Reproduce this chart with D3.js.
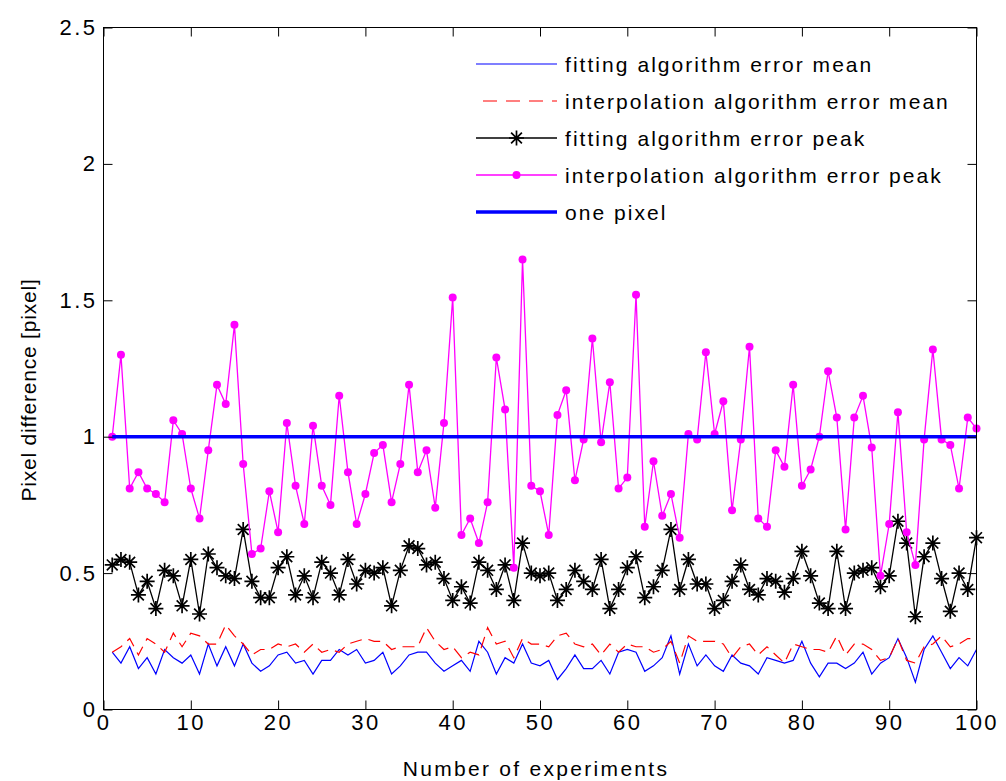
<!DOCTYPE html>
<html>
<head>
<meta charset="utf-8">
<script src="https://cdn.jsdelivr.net/npm/d3@7"></script>
<style>
  html, body { margin: 0; padding: 0; background: #ffffff; }
  svg { display: block; }
  text { font-family: "Liberation Sans", Arial, sans-serif; fill: #000; }
</style>
</head>
<body>
<svg id="chart" width="1006" height="781"></svg>
<script>
// Per-experiment error statistics (pixel units)
const fittingMean = [
  0.21, 0.17, 0.23, 0.15, 0.19, 0.13, 0.22, 0.19, 0.17, 0.20,
  0.13, 0.24, 0.16, 0.23, 0.16, 0.24, 0.17, 0.14, 0.16, 0.20,
  0.21, 0.17, 0.18, 0.13, 0.18, 0.18, 0.22, 0.20, 0.22, 0.17,
  0.18, 0.21, 0.13, 0.16, 0.20, 0.21, 0.21, 0.17, 0.14, 0.16,
  0.18, 0.14, 0.25, 0.21, 0.13, 0.19, 0.17, 0.24, 0.17, 0.16,
  0.18, 0.11, 0.15, 0.20, 0.15, 0.15, 0.18, 0.13, 0.21, 0.22,
  0.21, 0.14, 0.16, 0.19, 0.27, 0.13, 0.24, 0.16, 0.20, 0.16,
  0.14, 0.20, 0.17, 0.16, 0.13, 0.19, 0.18, 0.17, 0.18, 0.25,
  0.17, 0.12, 0.17, 0.17, 0.15, 0.17, 0.21, 0.13, 0.17, 0.19,
  0.26, 0.19, 0.10, 0.22, 0.27, 0.21, 0.15, 0.19, 0.16, 0.22
];
const interpMean = [
  0.21, 0.23, 0.26, 0.20, 0.26, 0.24, 0.21, 0.28, 0.23, 0.28,
  0.27, 0.24, 0.24, 0.31, 0.27, 0.24, 0.20, 0.22, 0.22, 0.24,
  0.23, 0.24, 0.21, 0.24, 0.21, 0.22, 0.21, 0.24, 0.25, 0.26,
  0.25, 0.25, 0.22, 0.23, 0.23, 0.23, 0.30, 0.25, 0.22, 0.23,
  0.19, 0.21, 0.20, 0.30, 0.24, 0.25, 0.19, 0.26, 0.24, 0.24,
  0.23, 0.27, 0.28, 0.24, 0.23, 0.24, 0.20, 0.24, 0.21, 0.24,
  0.23, 0.23, 0.21, 0.22, 0.25, 0.17, 0.27, 0.25, 0.25, 0.25,
  0.24, 0.19, 0.23, 0.24, 0.20, 0.23, 0.20, 0.17, 0.24, 0.23,
  0.22, 0.22, 0.21, 0.27, 0.20, 0.24, 0.24, 0.22, 0.18, 0.19,
  0.26, 0.18, 0.17, 0.23, 0.24, 0.27, 0.23, 0.24, 0.26, 0.26
];
const fittingPeak = [
  0.53, 0.55, 0.54, 0.42, 0.47, 0.37, 0.51, 0.49, 0.38, 0.55,
  0.35, 0.57, 0.52, 0.49, 0.48, 0.66, 0.47, 0.41, 0.41, 0.52,
  0.56, 0.42, 0.49, 0.41, 0.54, 0.50, 0.42, 0.55, 0.46, 0.51,
  0.50, 0.52, 0.38, 0.51, 0.60, 0.59, 0.53, 0.54, 0.48, 0.40,
  0.45, 0.39, 0.54, 0.51, 0.44, 0.53, 0.40, 0.61, 0.50, 0.49,
  0.50, 0.40, 0.44, 0.51, 0.47, 0.44, 0.55, 0.37, 0.44, 0.52,
  0.56, 0.41, 0.45, 0.51, 0.66, 0.44, 0.55, 0.46, 0.46, 0.37,
  0.40, 0.47, 0.53, 0.44, 0.42, 0.48, 0.47, 0.43, 0.48, 0.58,
  0.49, 0.39, 0.37, 0.58, 0.37, 0.50, 0.51, 0.52, 0.45, 0.49,
  0.69, 0.61, 0.34, 0.56, 0.61, 0.48, 0.36, 0.50, 0.44, 0.63
];
const interpPeak = [
  1.00, 1.30, 0.81, 0.87, 0.81, 0.79, 0.76, 1.06, 1.01, 0.81,
  0.70, 0.95, 1.19, 1.12, 1.41, 0.90, 0.57, 0.59, 0.80, 0.65,
  1.05, 0.82, 0.68, 1.04, 0.82, 0.75, 1.15, 0.87, 0.68, 0.79,
  0.94, 0.97, 0.76, 0.90, 1.19, 0.87, 0.95, 0.74, 1.05, 1.51,
  0.64, 0.70, 0.61, 0.76, 1.29, 1.10, 0.52, 1.65, 0.82, 0.80,
  0.64, 1.08, 1.17, 0.84, 0.99, 1.36, 0.98, 1.20, 0.81, 0.85,
  1.52, 0.67, 0.91, 0.71, 0.79, 0.63, 1.01, 0.99, 1.31, 1.01,
  1.13, 0.73, 0.99, 1.33, 0.70, 0.67, 0.95, 0.89, 1.19, 0.82,
  0.88, 1.00, 1.24, 1.07, 0.66, 1.07, 1.15, 0.96, 0.49, 0.68,
  1.09, 0.65, 0.53, 0.99, 1.32, 0.99, 0.97, 0.81, 1.07, 1.03
];
const onePixel = 1;

const xTicks = [0, 10, 20, 30, 40, 50, 60, 70, 80, 90, 100];
const yTicks = [0, 0.5, 1, 1.5, 2, 2.5];
const yTickLabels = ["0", "0.5", "1", "1.5", "2", "2.5"];

const legendLabels = [
  "fitting algorithm error mean",
  "interpolation algorithm error mean",
  "fitting algorithm error peak",
  "interpolation algorithm error peak",
  "one pixel"
];
const xTitle = "Number of experiments";
const yTitle = "Pixel difference [pixel]";

// ---- layout ----
const plot = { left: 103.5, right: 976.5, top: 27.5, bottom: 709.5 };
const svg = d3.select("#chart");

const x = d3.scaleLinear().domain([0, 100]).range([plot.left, plot.right]);
const y = d3.scaleLinear().domain([0, 2.5]).range([plot.bottom, plot.top]);

const withIndex = arr => arr.map((v, i) => ({ n: i + 1, v }));
const line = d3.line().x(d => x(d.n)).y(d => y(d.v));

const gData = svg.append("g");

// fitting mean (thin blue)
gData.append("path")
  .datum(withIndex(fittingMean))
  .attr("d", line)
  .attr("fill", "none").attr("stroke", "#0000ff").attr("stroke-width", 1.2);

// interpolation mean (red dashed)
gData.append("path")
  .datum(withIndex(interpMean))
  .attr("d", line)
  .attr("fill", "none").attr("stroke", "#ff0000").attr("stroke-width", 1.2)
  .attr("stroke-dasharray", "12,7");

// fitting peak (black, asterisk markers)
const peakF = withIndex(fittingPeak);
gData.append("path")
  .datum(peakF)
  .attr("d", line)
  .attr("fill", "none").attr("stroke", "#000").attr("stroke-width", 1.3);

function asterisk(g, cx, cy, r) {
  const d = r * 0.72;
  const p = `M${cx - r},${cy}L${cx + r},${cy}M${cx},${cy - r}L${cx},${cy + r}` +
            `M${cx - d},${cy - d}L${cx + d},${cy + d}M${cx - d},${cy + d}L${cx + d},${cy - d}`;
  g.append("path").attr("d", p).attr("stroke", "#000").attr("stroke-width", 1.7).attr("fill", "none");
}
const gStars = gData.append("g");
peakF.forEach(d => asterisk(gStars, x(d.n), y(d.v), 7.5));

// interpolation peak (magenta, dot markers)
const peakI = withIndex(interpPeak);
gData.append("path")
  .datum(peakI)
  .attr("d", line)
  .attr("fill", "none").attr("stroke", "#ff00ff").attr("stroke-width", 1.3);
gData.append("g").selectAll("circle")
  .data(peakI).join("circle")
  .attr("cx", d => x(d.n)).attr("cy", d => y(d.v))
  .attr("r", 4).attr("fill", "#ff00ff");

// one pixel reference line
gData.append("line")
  .attr("x1", x(1)).attr("x2", x(100))
  .attr("y1", y(onePixel)).attr("y2", y(onePixel))
  .attr("stroke", "#0000ff").attr("stroke-width", 3.5);

// ---- axes box and ticks ----
const gAxes = svg.append("g");
gAxes.append("rect")
  .attr("x", plot.left).attr("y", plot.top)
  .attr("width", plot.right - plot.left).attr("height", plot.bottom - plot.top)
  .attr("fill", "none").attr("stroke", "#000").attr("stroke-width", 1);

const tickLen = 9;
const axisBottom = d3.axisBottom(x).tickValues(xTicks).tickSize(-tickLen).tickPadding(5).tickFormat(d3.format("d"));
const axisTop = d3.axisTop(x).tickValues(xTicks).tickSize(-tickLen).tickFormat("");
const axisLeft = d3.axisLeft(y).tickValues(yTicks).tickSize(-tickLen).tickPadding(6)
  .tickFormat((d, i) => yTickLabels[i]);
const axisRight = d3.axisRight(y).tickValues(yTicks).tickSize(-tickLen).tickFormat("");

function styleAxis(g) {
  g.select(".domain").remove();
  g.selectAll(".tick line").attr("stroke", "#000");
  g.selectAll(".tick text")
    .attr("font-family", "'Liberation Sans', Arial, sans-serif")
    .attr("font-size", 22).attr("letter-spacing", 2.5).attr("fill", "#000");
}
gAxes.append("g").attr("transform", `translate(0,${plot.bottom})`).call(axisBottom).call(styleAxis);
gAxes.append("g").attr("transform", `translate(0,${plot.top})`).call(axisTop).call(styleAxis);
gAxes.append("g").attr("transform", `translate(${plot.left},0)`).call(axisLeft).call(styleAxis);
gAxes.append("g").attr("transform", `translate(${plot.right},0)`).call(axisRight).call(styleAxis);

// axis titles
svg.append("text")
  .attr("x", 536).attr("y", 776)
  .attr("text-anchor", "middle").attr("font-size", 21).attr("letter-spacing", 2.3)
  .text(xTitle);
svg.append("text")
  .attr("transform", `translate(36,390) rotate(-90)`)
  .attr("text-anchor", "middle").attr("font-size", 21).attr("letter-spacing", 0.8)
  .text(yTitle);

// ---- legend ----
const leg = svg.append("g");
const rowY = [64, 101, 138, 175, 212];
const sx0 = 476, sx1 = 557, tx = 565;
const legendStyles = [
  { stroke: "#0000ff", width: 1.2 },
  { stroke: "#ff0000", width: 1.2, dash: "14,9", start: 483 },
  { stroke: "#000", width: 1.3, marker: "star" },
  { stroke: "#ff00ff", width: 1.3, marker: "dot" },
  { stroke: "#0000ff", width: 3.5 }
];
legendLabels.forEach((label, i) => {
  const s = legendStyles[i];
  const cy = rowY[i];
  const ln = leg.append("line")
    .attr("x1", s.start || sx0).attr("x2", sx1).attr("y1", cy).attr("y2", cy)
    .attr("stroke", s.stroke).attr("stroke-width", s.width);
  if (s.dash) ln.attr("stroke-dasharray", s.dash);
  const mx = (sx0 + sx1) / 2;
  if (s.marker === "star") asterisk(leg, mx, cy, 7.5);
  if (s.marker === "dot") leg.append("circle").attr("cx", mx).attr("cy", cy).attr("r", 4).attr("fill", "#ff00ff");
  leg.append("text")
    .attr("x", tx).attr("y", cy + 7.5)
    .attr("font-size", 21).attr("letter-spacing", 2.05)
    .text(label);
});
</script>
</body>
</html>
